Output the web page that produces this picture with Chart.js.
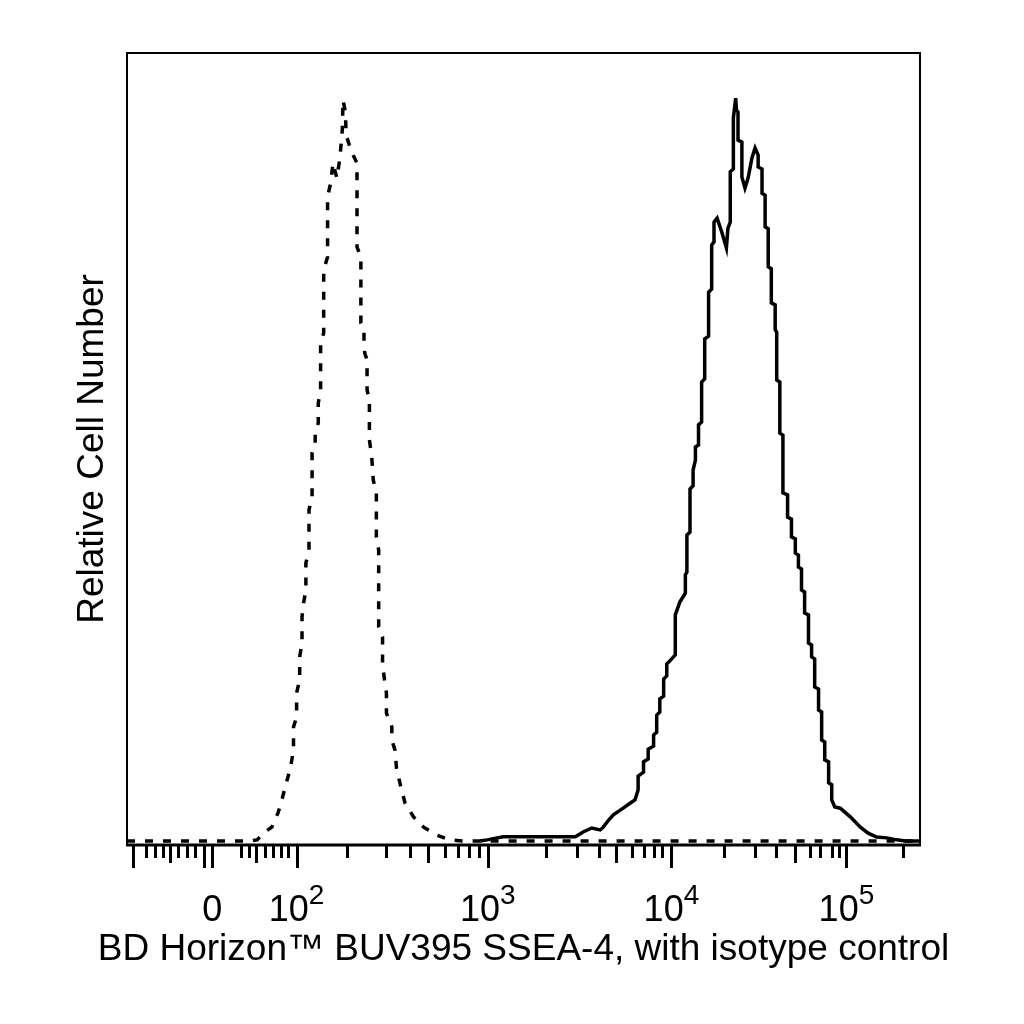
<!DOCTYPE html>
<html>
<head>
<meta charset="utf-8">
<script src="https://cdn.jsdelivr.net/npm/chart.js@4.4.1/dist/chart.umd.min.js"></script>
<style>
    html, body { margin: 0; padding: 0; background: #ffffff; }
    canvas { display: block; }
</style>
</head>
<body>
<canvas id="histChart" width="1024" height="1024"></canvas>
<script>
// x = display channel (0-1024 biexponential display), y = events per channel

const isotypeChannels = [0, 159, 168, 178, 187, 195, 200, 206, 211, 215,
    215, 219, 219, 223, 223, 226, 226, 228, 231, 231,
    235, 235, 239, 239, 243, 243, 247, 247, 250, 250,
    254, 254, 259, 259, 263, 266, 271, 275, 278, 279,
    282, 283, 287, 292, 297, 297, 302, 302, 306, 306,
    307, 310, 310, 313, 313, 316, 318, 322, 322, 325,
    325, 330, 330, 332, 335, 335, 342, 342, 346, 348,
    353, 359, 370, 383, 400, 417, 433, 1024];
const isotypeCounts = [0, 0, 0.3, 2.3, 3.5, 7.1, 10.4, 14.9, 18.4, 23.0,
    28.8, 31.3, 37.4, 40.7, 46.5, 50.0, 56.6, 60.1, 63.4, 70.2,
    73.5, 83.6, 86.9, 98.0, 100.5, 103.0, 105.6, 110.6, 113.9, 125.8,
    128.3, 144.2, 147.5, 162.6, 166.2, 171.2, 167.4, 172.5, 179.6, 187.1,
    184.1, 178.3, 175.8, 173.2, 171.2, 150.0, 147.5, 130.8, 129.1, 125.8,
    123.2, 121.5, 113.9, 111.4, 101.3, 97.0, 91.2, 87.9, 76.8, 73.5,
    54.1, 51.5, 45.0, 41.4, 37.4, 32.3, 28.8, 25.5, 23.0, 18.4,
    14.2, 9.6, 6.1, 3.5, 1.5, 0.3, 0, 0];

const sseaChannels = [456, 465, 478, 486, 579, 589, 600, 611, 615, 622,
    628, 637, 650, 656, 660, 660, 667, 667, 673, 673,
    680, 680, 684, 684, 688, 688, 693, 693, 697, 697,
    701, 708, 708, 714, 721, 721, 723, 723, 727, 727,
    731, 731, 734, 734, 738, 738, 742, 742, 746, 746,
    751, 751, 755, 755, 758, 758, 762, 768, 774, 776,
    779, 779, 783, 783, 786, 787, 789, 789, 794, 794,
    798, 802, 807, 811, 815, 815, 820, 820, 824, 824,
    828, 828, 832, 832, 837, 837, 839, 839, 843, 843,
    847, 847, 853, 853, 858, 858, 863, 863, 867, 867,
    871, 871, 875, 875, 880, 880, 884, 884, 888, 888,
    893, 893, 897, 897, 901, 901, 906, 906, 910, 910,
    914, 921, 934, 947, 957, 968, 981, 994, 1005, 1024];
const sseaCounts = [0, 0.3, 0.8, 1.1, 1.1, 2.3, 3.3, 2.8, 3.5, 5.3,
    6.6, 7.8, 9.6, 10.4, 12.9, 16.4, 17.4, 20.0, 20.7, 23.2,
    24.0, 26.8, 27.5, 31.8, 32.6, 35.9, 36.6, 40.9, 41.7, 44.7,
    45.5, 47.0, 57.1, 60.4, 62.6, 67.2, 67.9, 77.3, 78.0, 88.9,
    89.7, 93.7, 96.2, 99.5, 100.0, 105.1, 105.8, 115.9, 116.7, 126.8,
    127.5, 138.6, 139.4, 150.5, 151.3, 156.3, 157.3, 153.8, 149.8, 154.8,
    156.3, 169.0, 169.7, 182.6, 187.6, 184.6, 184.1, 177.0, 176.5, 167.7,
    164.9, 167.4, 172.5, 175.0, 173.2, 170.2, 169.7, 163.6, 163.1, 155.1,
    154.6, 145.0, 144.5, 135.9, 135.4, 129.1, 128.5, 116.4, 115.9, 103.0,
    102.5, 87.9, 87.4, 81.8, 81.3, 76.8, 76.3, 72.7, 72.2, 69.2,
    68.7, 63.4, 62.9, 57.6, 57.1, 50.0, 49.5, 46.5, 46.0, 38.9,
    38.4, 33.1, 32.6, 25.5, 25.0, 20.5, 20.0, 14.7, 14.2, 10.4,
    8.6, 8.3, 6.1, 3.5, 2.0, 1.0, 0.8, 0.3, 0, 0];

// axis ticks (display channels)
const decadeTicks = [110, 219, 466, 703, 929];
const decadeBases = ["0", "10", "10", "10", "10"];
const decadeExponents = ["", "2", "3", "4", "5"];
const longTicks = [8, 100];
const midTicks = [56, 167, 389, 631, 862];
const shortTicks = [24, 36, 46, 66, 77, 88, 147, 158, 178, 189, 199, 208,
    284, 334, 366, 410, 428, 442, 454,
    541, 581, 609, 652, 668, 680, 691,
    771, 811, 838, 882, 895, 910, 920, 1002];

const xTitle = "BD Horizon™ BUV395 SSEA-4, with isotype control";
const yTitle = "Relative Cell Number";

const fontFamily = "'Liberation Sans', Arial, Helvetica, sans-serif";

const toPoints = (xs, ys) => xs.map((v, i) => ({ x: v, y: ys[i] }));

const flowAxes = {
    id: "flowAxes",
    afterDraw(chart) {
        const ctx = chart.ctx;
        const area = chart.chartArea;
        const xScale = chart.scales.x;

        ctx.save();
        ctx.strokeStyle = "#000000";
        ctx.fillStyle = "#000000";

        // frame
        ctx.lineWidth = 2;
        ctx.beginPath();
        ctx.moveTo(area.left, area.bottom);
        ctx.lineTo(area.left, area.top);
        ctx.lineTo(area.right, area.top);
        ctx.lineTo(area.right, area.bottom);
        ctx.stroke();

        ctx.lineWidth = 3;
        ctx.beginPath();
        ctx.moveTo(area.left - 1, area.bottom);
        ctx.lineTo(area.right + 1, area.bottom);
        ctx.stroke();

        // tick marks
        const drawTicks = (values, len) => {
            ctx.lineWidth = 3;
            ctx.beginPath();
            values.forEach((v) => {
                const px = Math.round(xScale.getPixelForValue(v)) + 0.5;
                ctx.moveTo(px, area.bottom);
                ctx.lineTo(px, area.bottom + len);
            });
            ctx.stroke();
        };
        drawTicks(shortTicks, 13);
        drawTicks(midTicks, 18);
        drawTicks(longTicks, 23);
        drawTicks(decadeTicks, 23);

        // tick labels: base + raised exponent
        const baseFont = "36px " + fontFamily;
        const expFont = "28px " + fontFamily;
        ctx.textBaseline = "alphabetic";
        ctx.textAlign = "left";
        decadeTicks.forEach((v, i) => {
            const px = xScale.getPixelForValue(v);
            ctx.font = baseFont;
            const wBase = ctx.measureText(decadeBases[i]).width;
            ctx.font = expFont;
            const wExp = ctx.measureText(decadeExponents[i]).width;
            const start = px - (wBase + wExp) / 2;
            ctx.font = baseFont;
            ctx.fillText(decadeBases[i], start, area.bottom + 76);
            ctx.font = expFont;
            ctx.fillText(decadeExponents[i], start + wBase, area.bottom + 59);
        });

        // axis titles
        ctx.font = "37px " + fontFamily;
        ctx.textAlign = "center";
        ctx.fillText(xTitle, (area.left + area.right) / 2, area.bottom + 115);

        ctx.translate(area.left - 24, (area.top + area.bottom) / 2);
        ctx.rotate(-Math.PI / 2);
        ctx.fillText(yTitle, 0, 0);
        ctx.restore();
    },
};

const chart = new Chart(document.getElementById("histChart"), {
    type: "line",
    data: {
        datasets: [
            {
                label: "Isotype control",
                data: toPoints(isotypeChannels, isotypeCounts),
                borderColor: "#000000",
                borderWidth: 3.5,
                borderDash: [8, 10],
                pointRadius: 0,
                tension: 0,
                fill: false,
            },
            {
                label: "SSEA-4",
                data: toPoints(sseaChannels, sseaCounts),
                borderColor: "#000000",
                borderWidth: 3.5,
                pointRadius: 0,
                tension: 0,
                fill: false,
            },
        ],
    },
    options: {
        responsive: false,
        animation: false,
        layout: {
            padding: { left: 127, top: 53, right: 104, bottom: 179 },
        },
        scales: {
            x: { type: "linear", min: 0, max: 1024, display: false },
            y: { type: "linear", min: -1, max: 199, display: false },
        },
        plugins: {
            legend: { display: false },
            tooltip: { enabled: false },
        },
    },
    plugins: [flowAxes],
});
</script>
</body>
</html>
